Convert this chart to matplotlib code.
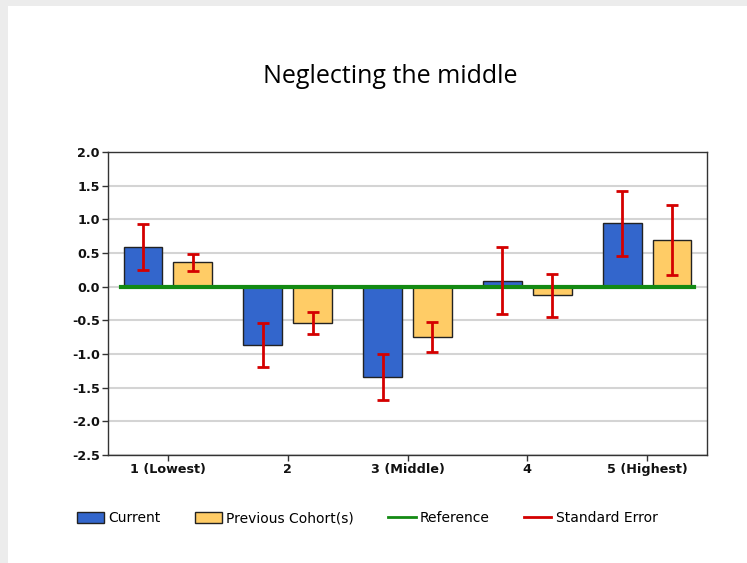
import numpy as np
import matplotlib
matplotlib.use("Agg")
import matplotlib.pyplot as plt
from matplotlib.patches import Rectangle, Patch
from matplotlib.lines import Line2D

# values
groups = ["1 (Lowest)", "2", "3 (Middle)", "4", "5 (Highest)"]
current = [0.59, -0.87, -1.34, 0.09, 0.94]
current_se = [0.34, 0.33, 0.34, 0.50, 0.48]
previous = [0.36, -0.54, -0.75, -0.13, 0.69]
previous_se = [0.13, 0.17, 0.22, 0.32, 0.52]
reference = 0.0
yticks = [2.0, 1.5, 1.0, 0.5, 0.0, -0.5, -1.0, -1.5, -2.0, -2.5]

fig = plt.figure(figsize=(7.47, 5.63), dpi=100)
fig.patch.set_facecolor("#ececec")
# white card with a little grey margin on top/left, like the screenshot
fig.patches.append(Rectangle((8 / 747, 0), 1, 1 - 6 / 563, transform=fig.transFigure,
                             facecolor="white", edgecolor="none", zorder=-10))

fig.text(0.523, 1 - 77 / 563, "Neglecting the middle", ha="center", va="center",
         fontsize=18, family="Open Sans", color="black")

ax = fig.add_axes([108 / 747, 1 - 455 / 563, 599 / 747, 303 / 563])
ax.set_facecolor("white")

x = np.arange(len(groups))
w = 0.325
off = 0.208
ax.bar(x - off, current, width=w, color="#3366cc", edgecolor="#222222", linewidth=1, zorder=3)
ax.bar(x + off, previous, width=w, color="#ffcc66", edgecolor="#222222", linewidth=1, zorder=3)

ax.plot([-0.39, 4.39], [reference, reference], color="#138a13", linewidth=3, zorder=4)

ax.errorbar(x - off, current, yerr=current_se, fmt="none", ecolor="#d40000",
            elinewidth=2, capsize=4, capthick=2, zorder=5)
ax.errorbar(x + off, previous, yerr=previous_se, fmt="none", ecolor="#d40000",
            elinewidth=2, capsize=4, capthick=2, zorder=5)

ax.set_xlim(-0.5, 4.5)
ax.set_ylim(-2.5, 2.0)
ax.set_yticks(yticks)
ax.set_yticklabels([f"{t:.1f}" for t in yticks])
ax.set_xticks(x)
ax.set_xticklabels(groups)
ax.grid(axis="y", color="#d4d4d4", linewidth=1.5, zorder=0)
ax.set_axisbelow(True)
for s in ax.spines.values():
    s.set_color("#333333")
    s.set_linewidth(1)
ax.tick_params(axis="both", length=4, width=1, color="#333333", pad=2)
for lab in ax.get_xticklabels() + ax.get_yticklabels():
    lab.set_fontweight("bold")
    lab.set_fontsize(9.2)
    lab.set_color("#111111")

handles = [
    Patch(facecolor="#3366cc", edgecolor="#222222", label="Current"),
    Patch(facecolor="#ffcc66", edgecolor="#222222", label="Previous Cohort(s)"),
    Line2D([], [], color="#138a13", linewidth=2, label="Reference"),
    Line2D([], [], color="#d40000", linewidth=2, label="Standard Error"),
]
fig.legend(handles=handles, loc="center", bbox_to_anchor=(367 / 747, 1 - 518 / 563),
           ncol=4, frameon=False, handlelength=1.95, handleheight=0.85, handletextpad=0.3,
           columnspacing=2.5, prop={"size": 10})

fig.savefig("out.png", dpi=100)
